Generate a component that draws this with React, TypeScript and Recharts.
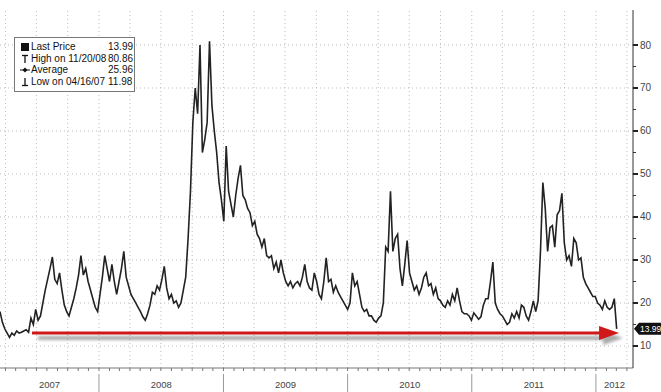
import React from "react";
import { LineChart, Line, XAxis, YAxis, ReferenceLine, ReferenceDot } from "recharts";

// ---- data ----
const startDate = "2007-03-16"; // first weekly close shown
const domainFrom = "2007-03-16";
const domainTo = "2012-04-19";

const vix: number[] = [
  18, 15.5, 14, 13, 12, 13, 12.5, 13.5, 13, 13.2,
  13.5, 13.8, 13.2, 16.5, 15, 18.5, 16, 17, 20, 23,
  25.5, 28, 30.7, 25.5, 24.5, 27, 23, 19.5, 18, 17,
  19, 21, 23.5, 26.5, 31, 26.5, 28, 25, 23, 21,
  19, 18, 22, 26, 31, 28, 25, 29, 25, 22,
  25, 28, 32, 26, 24, 22, 21, 20, 19, 18,
  16.8, 16, 17.5, 19.5, 22.5, 22, 24, 23, 25.5, 28.5,
  23.5, 21, 22, 20, 20.5, 19, 20, 23, 26, 35,
  46, 62, 70, 64, 80, 55, 58, 62, 80.86, 66,
  60, 55, 48, 44, 39, 56.5, 46, 43, 40, 45,
  49, 52, 45, 44, 42, 41, 38, 39, 36, 35,
  33, 35, 31, 30.5, 31, 28, 29.5, 27, 30, 27,
  25, 24, 25, 23.5, 24.5, 25, 24, 26, 29, 25,
  23.5, 23, 27, 25, 22, 21, 25, 30.5, 25, 25.5,
  22.5, 24, 22.5, 21.5, 20.5, 19.5, 18.5, 20, 27, 24,
  25, 22, 19, 18, 18.5, 17, 17, 16, 15.5, 16.5,
  17, 20, 33, 32, 46, 32, 35, 36, 28, 24,
  29, 34.5, 27, 25, 23, 24, 22, 23.5, 26, 27,
  24, 24.5, 22, 23.5, 21, 20.5, 19.5, 19, 20.5, 19.5,
  22, 20.5, 23.5, 20.5, 18, 17.5, 17.5, 17, 16, 17.7,
  17, 16.2, 16.8, 19.5, 21, 21, 25, 29.5, 20, 18.5,
  17.5, 17, 16, 15, 15.5, 17.5, 16.5, 18, 16.5, 19.5,
  19, 17, 16, 18, 20.5, 18, 20.5, 32, 48, 42,
  32, 37.5, 38, 33, 40.5, 41.5, 45.5, 34, 30, 31,
  28.5, 35, 34, 30, 30.5, 26, 24.5, 23.5, 22.5, 21.5,
  21.5, 20, 19.5, 18.5, 20.5, 19, 18.5, 19, 21, 13.99,
];

const yearLabels = ["2007", "2008", "2009", "2010", "2011", "2012"];
const yTicks = [10, 15, 20, 25, 30, 35, 40, 45, 50, 55, 60, 65, 70, 75, 80];
const yMajor = [10, 20, 30, 40, 50, 60, 70, 80];
const yDomain: [number, number] = [4.88, 88.14];

const legendRows = [
  { icon: "last", label: "Last Price", value: "13.99" },
  { icon: "high", label: "High on 11/20/08", value: "80.86" },
  { icon: "avg", label: "Average", value: "25.96" },
  { icon: "low", label: "Low on 04/16/07", value: "11.98" },
];
const lastPriceLabel = "13.99";
const lastPrice = 13.99;
const arrowLevel = 13;
const arrowFrom = "2007-06-18";
const arrowTo = "2012-03-09";

// ---- derived ----
const DAY = 86400000;
const toTime = (s: string) => Date.parse(s + "T00:00:00Z");
const t0 = toTime(domainFrom);
const t1 = toTime(domainTo);
const data = vix.map((v, i) => ({ t: toTime(startDate) + i * 7 * DAY, v }));

const years = yearLabels.map((y) => parseInt(y, 10));
const yearStarts = years
  .map((y) => Date.UTC(y, 0, 1))
  .filter((t) => t > t0 && t < t1);
const yearStartSet = new Set(yearStarts);

const monthTicks: number[] = [];
const quarterLines: number[] = [];
for (let y = years[0]; y <= years[years.length - 1]; y++) {
  for (let m = 0; m < 12; m++) {
    const t = Date.UTC(y, m, 1);
    if (t > t0 && t < t1) {
      monthTicks.push(t);
      if (m % 3 === 0) quarterLines.push(t);
    }
  }
}
const centerLabel = new Map<number, string>();
years.forEach((y, i) => {
  const a = Math.max(t0, Date.UTC(y, 0, 1));
  const b = Math.min(t1, Date.UTC(y + 1, 0, 1));
  centerLabel.set(Math.round((a + b) / 2) + 1, yearLabels[i]);
});
const xTicks = [...monthTicks, ...Array.from(centerLabel.keys())].sort((a, b) => a - b);

const FONT = "'Liberation Sans', Arial, sans-serif";

const XTick = (props: any) => {
  const { x, y, payload } = props;
  const v = payload.value;
  const label = centerLabel.get(v);
  if (label) {
    return (
      <text x={x} y={y + 20} textAnchor="middle" fontSize={9.5} fill="#444" fontFamily={FONT}>
        {label}
      </text>
    );
  }
  return (
    <g>
      <line x1={x} x2={x} y1={y} y2={y + 3} stroke="#777" strokeWidth={1} />
      {yearStartSet.has(v) && <line x1={x} x2={x} y1={y + 6} y2={y + 24} stroke="#999" strokeWidth={1} />}
    </g>
  );
};

const YTick = (props: any) => {
  const { x, y, payload } = props;
  const v = payload.value;
  const major = yMajor.includes(v);
  if (!major) {
    return <line x1={x} x2={x + 3} y1={y} y2={y} stroke="#333" strokeWidth={1} />;
  }
  return (
    <g>
      <line x1={x} x2={x + 5} y1={y} y2={y} stroke="#222" strokeWidth={2} />
      <text x={x + 7} y={y + 3.5} fontSize={10} fill="#444" fontFamily={FONT}>
        {v}
      </text>
    </g>
  );
};

const ArrowShape = (p: any) => {
  const { x1, y1, x2 } = p;
  const y = y1;
  const head = 20;
  const hw = 7;
  return (
    <g>
      <defs>
        <filter id="arrowShadow" x="-5%" y="-300%" width="110%" height="700%">
          <feGaussianBlur stdDeviation="1.8" />
        </filter>
      </defs>
      <g filter="url(#arrowShadow)" opacity={0.55}>
        <line x1={x1 + 6} y1={y + 5} x2={x2 - head + 4} y2={y + 5} stroke="#666" strokeWidth={4} />
        <polygon
          points={`${x2 - head + 4},${y - hw + 5} ${x2 + 4},${y + 5} ${x2 - head + 4},${y + hw + 5}`}
          fill="#666"
        />
      </g>
      <line x1={x1} y1={y} x2={x2 - head + 1} y2={y} stroke="#d01818" strokeWidth={3} />
      <polygon points={`${x2 - head},${y - hw} ${x2},${y} ${x2 - head},${y + hw}`} fill="#d01818" />
    </g>
  );
};

const Badge = (p: any) => {
  const { cx, cy } = p;
  return (
    <g>
      <polygon
        points={`${cx + 1},${cy} ${cx + 6},${cy - 6} ${cx + 28},${cy - 6} ${cx + 28},${cy + 6} ${cx + 6},${cy + 6}`}
        fill="#111"
      />
      <text x={cx + 7} y={cy + 3.2} fontSize={8.5} fill="#fff" fontFamily={FONT}>
        {lastPriceLabel}
      </text>
    </g>
  );
};

const LegendIcon = ({ kind }: { kind: string }) => (
  <svg width={10} height={10} style={{ display: "block" }}>
    {kind === "last" && <rect x={1} y={1} width={8} height={8} fill="#111" />}
    {kind === "high" && (
      <g stroke="#111" strokeWidth={1.3}>
        <line x1={2} x2={8} y1={1.5} y2={1.5} />
        <line x1={5} x2={5} y1={1.5} y2={9} />
      </g>
    )}
    {kind === "avg" && (
      <g>
        <line x1={0} x2={10} y1={5} y2={5} stroke="#111" strokeWidth={1} />
        <polygon points="5,2.5 7.5,5 5,7.5 2.5,5" fill="#111" />
      </g>
    )}
    {kind === "low" && (
      <g stroke="#111" strokeWidth={1.3}>
        <line x1={2} x2={8} y1={8.5} y2={8.5} />
        <line x1={5} x2={5} y1={1} y2={8.5} />
      </g>
    )}
  </svg>
);

export default function App() {
  return (
    <div style={{ position: "absolute", left: 0, top: 0, width: 661, height: 392, background: "#fff" }}>
      <LineChart width={661} height={392} data={data} margin={{ top: 10, right: 0, left: 0, bottom: 0 }}>
        <XAxis
          dataKey="t"
          type="number"
          domain={[t0, t1]}
          allowDataOverflow
          ticks={xTicks}
          interval={0}
          tick={<XTick />}
          tickLine={false}
          tickSize={0}
          tickMargin={0}
          height={24}
          axisLine={{ stroke: "#777" }}
        />
        <YAxis
          orientation="right"
          type="number"
          domain={yDomain}
          allowDataOverflow
          ticks={yTicks}
          interval={0}
          tick={<YTick />}
          tickLine={false}
          tickSize={0}
          tickMargin={0}
          width={28}
          axisLine={{ stroke: "#333" }}
        />
        {yMajor.map((lv) => (
          <ReferenceLine key={"h" + lv} y={lv} stroke="#bdbdbd" strokeDasharray="1 3" />
        ))}
        {quarterLines.map((q) => (
          <ReferenceLine key={"v" + q} x={q} stroke="#bdbdbd" strokeDasharray="1 3" />
        ))}
        <Line
          type="linear"
          dataKey="v"
          stroke="#222"
          strokeWidth={1.6}
          dot={false}
          isAnimationActive={false}
        />
        <ReferenceLine
          segment={[
            { x: toTime(arrowFrom), y: arrowLevel },
            { x: toTime(arrowTo), y: arrowLevel },
          ]}
          ifOverflow="visible"
          shape={ArrowShape}
        />
        <ReferenceDot x={t1} y={lastPrice} ifOverflow="visible" shape={Badge} />
      </LineChart>
      <div
        style={{
          position: "absolute",
          left: 14,
          top: 37,
          border: "1px solid #777",
          background: "#fff",
          padding: "3px 4px 3px 5px",
          fontFamily: FONT,
          fontSize: 10,
          color: "#111",
          lineHeight: "11.7px",
        }}
      >
        {legendRows.map((r) => (
          <div key={r.label} style={{ display: "flex", alignItems: "center", height: 11.7 }}>
            <div style={{ width: 11 }}>
              <LegendIcon kind={r.icon} />
            </div>
            <div style={{ width: 77, whiteSpace: "nowrap" }}>{r.label}</div>
            <div style={{ width: 22, whiteSpace: "nowrap" }}>{r.value}</div>
          </div>
        ))}
      </div>
    </div>
  );
}
